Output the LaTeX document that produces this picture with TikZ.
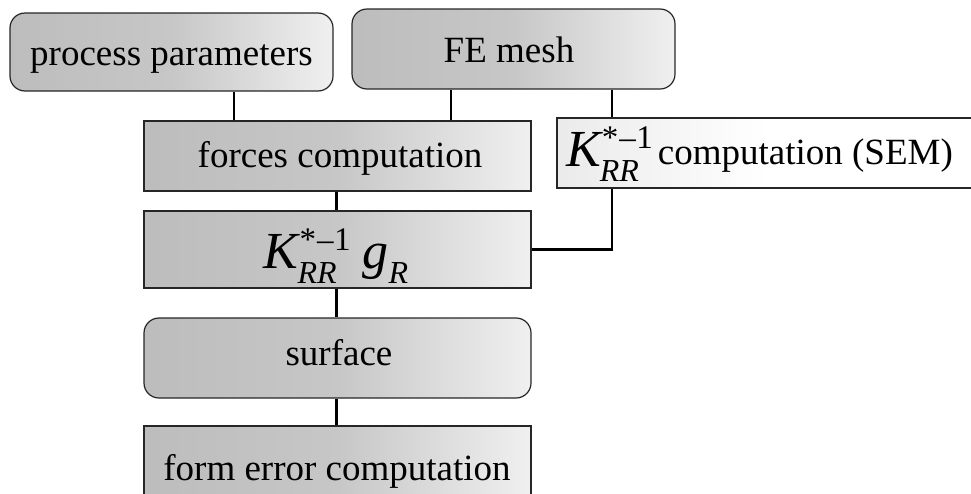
\documentclass[tikz,border=0pt]{standalone}
\usepackage{fontspec}
\setmainfont{Liberation Serif}
\newcommand{\bigK}{{\fontsize{52}{56}\selectfont\itshape K}}
\newcommand{\subRR}[1]{\raisebox{-15pt}{\fontsize{32}{34}\selectfont\itshape #1}}
\newcommand{\Kinv}{\bigK\rlap{\hspace{-1pt}\subRR{RR}}\raisebox{18pt}{\fontsize{33}{35}\selectfont\hspace{1pt}*\hspace{1pt}–\hspace{0.5pt}1}}
\begin{document}
\begin{tikzpicture}[x=1pt,y=-1pt,
  boxbase/.style={draw=black!85, line width=1.2pt, inner sep=0pt, anchor=center},
  graybox/.style={boxbase, left color=black!26, right color=black!6, middle color=black!22},
  roundbox/.style={graybox, rounded corners=15pt},
  whitebox/.style={boxbase, left color=black!8, right color=white, middle color=white},
  lbl/.style={inner sep=0pt, font=\fontsize{37}{40}\selectfont, anchor=base},
  conn/.style={line width=2.4pt, black}]
\useasboundingbox (0,0) rectangle (971,493);

% boxes
\node[roundbox, minimum width=323pt, minimum height=78pt] (pp) at (171.5,52) {};
\node[roundbox, minimum width=323pt, minimum height=80pt] (fe) at (513.5,49) {};
\node[graybox, minimum width=387pt, minimum height=70pt] (forces) at (337.5,156) {};
\node[whitebox, minimum width=423pt, minimum height=70pt] (ksem) at (768.5,153) {};
\node[graybox, minimum width=387pt, minimum height=77pt] (kg) at (337.5,249.5) {};
\node[roundbox, minimum width=387pt, minimum height=80pt] (surf) at (337.5,358) {};
\node[graybox, minimum width=387pt, minimum height=74pt] (form) at (337.5,463) {};

% texts
\node[lbl] (pp-t) at (171.5,65) {process parameters};
\node[lbl] (fe-t) at (509,62) {FE mesh};
\node[lbl] (forces-t) at (340,167) {forces computation};
\node[lbl] (kg-t) at (336,268) {\Kinv\hspace{12pt}{\fontsize{52}{56}\selectfont\itshape g}\subRR{R}};
\node[lbl, anchor=base west] (ksem-t) at (566,166) {\Kinv\hspace{5pt}\raisebox{2pt}{computation (SEM)}};
\node[lbl] (surf-t) at (339,365) {surface};
\node[lbl] (form-t) at (337,480) {form error computation};

% connector columns
\coordinate (c1) at (234,0);
\coordinate (c2) at (451,0);
\coordinate (c3) at (612,0);
\coordinate (c4) at (336.5,0);

\draw[conn] (pp.south -| c1) -- (forces.north -| c1);
\draw[conn] (fe.south -| c2) -- (forces.north -| c2);
\draw[conn] (fe.south -| c3) -- (ksem.north -| c3);
\draw[conn] (forces.south -| c4) -- (kg.north -| c4);
\draw[conn] (ksem.south -| c3) |- (kg.east);
\draw[conn] (kg.south -| c4) -- (surf.north -| c4);
\draw[conn] (surf.south -| c4) -- (form.north -| c4);
\end{tikzpicture}
\end{document}
